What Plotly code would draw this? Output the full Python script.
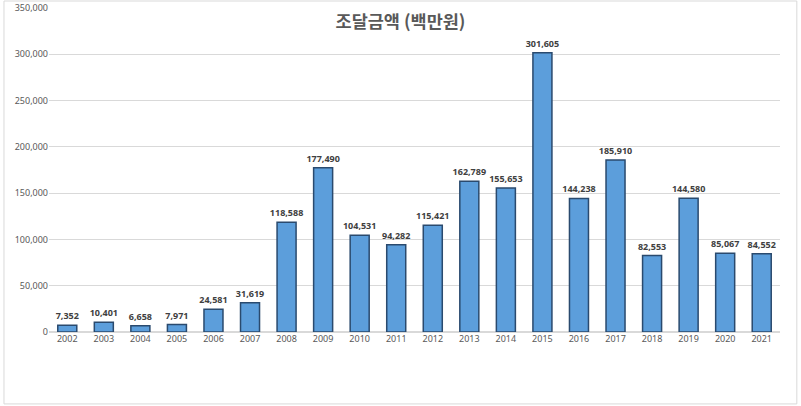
import plotly.graph_objects as go

years = [str(y) for y in range(2002, 2022)]
values = [7352, 10401, 6658, 7971, 24581, 31619, 118588, 177490, 104531, 94282,
          115421, 162789, 155653, 301605, 144238, 185910, 82553, 144580, 85067, 84552]
labels = [f"{v:,}" for v in values]
tick_vals = [0, 50000, 100000, 150000, 200000, 250000, 300000, 350000]
tick_text = [f"{v:,}" for v in tick_vals]

fig = go.Figure()
fig.add_trace(go.Bar(
    x=years, y=values, text=labels, textposition="outside",
    constraintext="none",
    textfont=dict(family="Noto Sans", size=9, color="#404040", weight="bold"),
    marker=dict(color="#5c9edb", line=dict(color="#2a4a6e", width=1.5)),
    cliponaxis=False,
))

fig.update_layout(
    width=801, height=406,
    margin=dict(l=49, r=21, t=8, b=74, autoexpand=False),
    paper_bgcolor="white", plot_bgcolor="white",
    bargap=0.48,
    showlegend=False,
    title=dict(text="<b>조달금액 (백만원)</b>", x=0.5, xanchor="center", y=0.945, yanchor="middle",
               font=dict(family="Noto Sans CJK KR", size=17.5, color="#595959")),
    xaxis=dict(type="category", showgrid=False, showline=False, ticks="", automargin=False,
               tickfont=dict(family="Noto Sans", size=9, color="#595959")),
    yaxis=dict(range=[0, 350000], tickvals=tick_vals, ticktext=tick_text, automargin=False,
               showgrid=True, gridcolor="#d9d9d9", gridwidth=1,
               zeroline=True, zerolinecolor="#d9d9d9", showline=False, ticks="",
               tickfont=dict(family="Noto Sans", size=9, color="#595959")),
    shapes=[dict(type="rect", xref="paper", yref="paper", x0=-0.0616, x1=1.023,
                 y0=-0.222, y1=1.0216, line=dict(color="#d9d9d9", width=1), layer="below")],
)

fig.write_html("out.html", config={"displayModeBar": False},
               post_script="document.body.style.margin='0';")
